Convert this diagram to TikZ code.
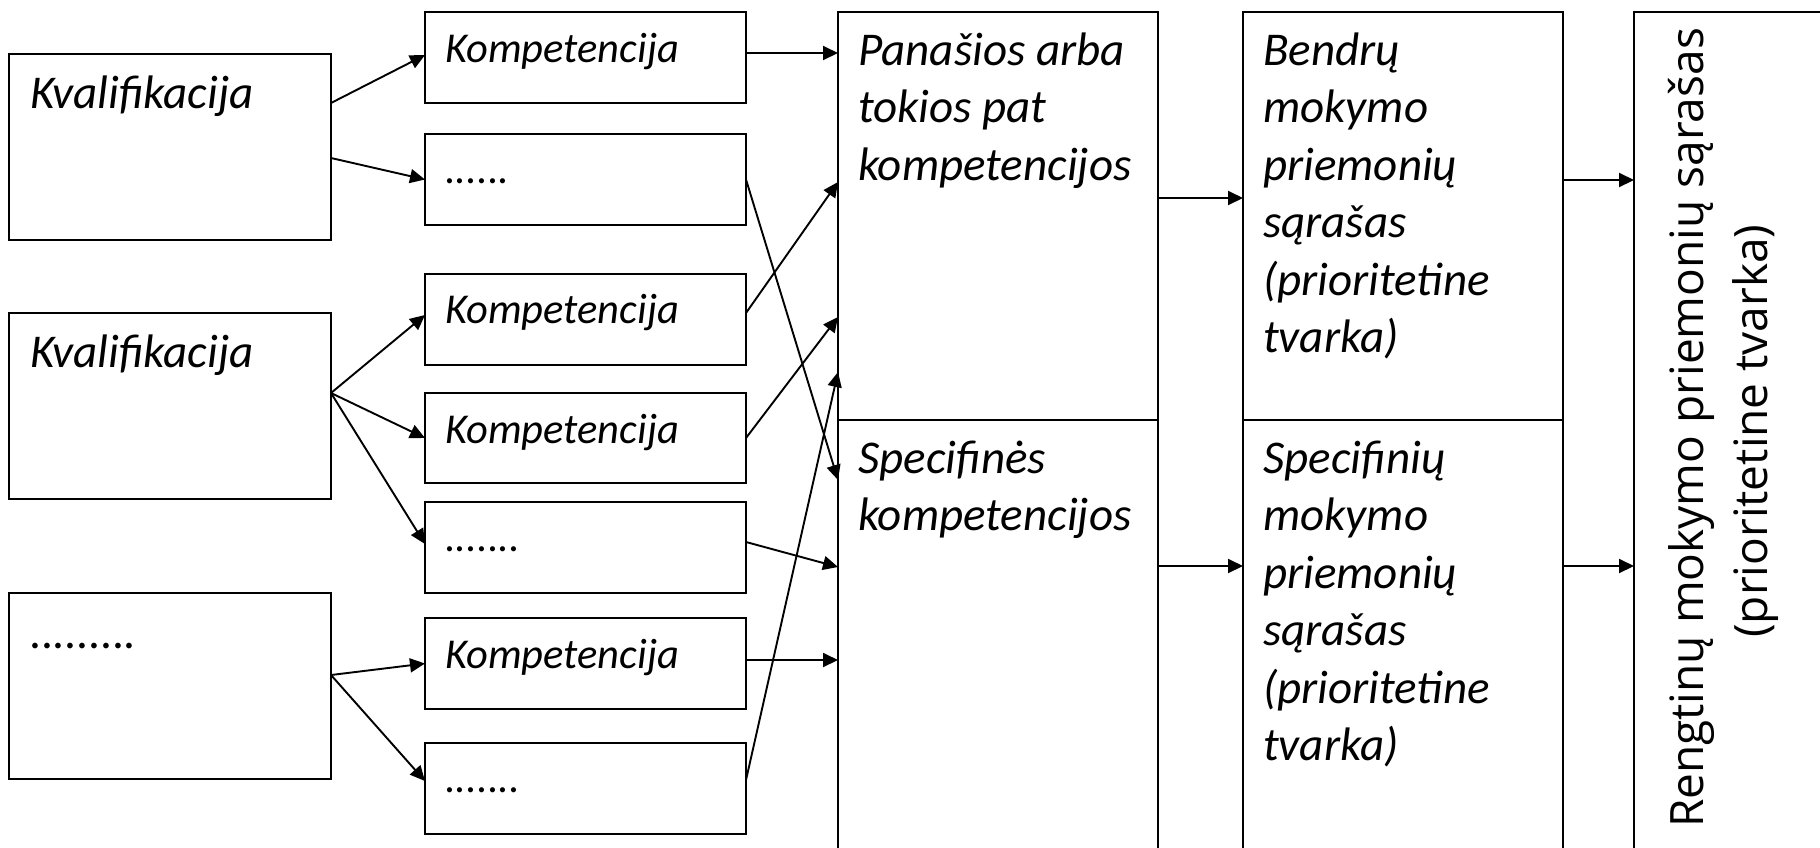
\documentclass[tikz,border=0pt]{standalone}
\usepackage{fontspec}
\setmainfont{Carlito}
\newfontfamily\rotfont{Open Sans}
\usetikzlibrary{arrows.meta,calc}
\begin{document}
\begin{tikzpicture}[x=1pt,y=-1pt,
  box/.style={draw, line width=2pt, inner sep=0pt, outer sep=0pt, anchor=north west},
  arr/.style={-{Triangle[length=15pt,width=14pt]}, line width=1.9pt},
  big/.style={font=\itshape\fontsize{47}{57.5}\selectfont, anchor=base west, inner sep=0pt},
  small/.style={font=\itshape\fontsize{42.5}{50}\selectfont, anchor=base west, inner sep=0pt},
  rot/.style={rotate=90, anchor=base, inner sep=0pt, font=\rotfont\fontsize{46}{60}\selectfont}]
\useasboundingbox (0,0) rectangle (1820,847);
\clip (0,0) rectangle (1820,847);
% left boxes
\node[box, minimum width=322pt, minimum height=186pt] (k1) at (9,54) {};
\node[box, minimum width=322pt, minimum height=186pt] (k2) at (9,313) {};
\node[box, minimum width=322pt, minimum height=186pt] (k3) at (9,593) {};
% competence boxes
\node[box, minimum width=321pt, minimum height=91pt] (c1) at (425,12) {};
\node[box, minimum width=321pt, minimum height=91pt] (c2) at (425,134) {};
\node[box, minimum width=321pt, minimum height=91pt] (c3) at (425,274) {};
\node[box, minimum width=321pt, minimum height=90pt] (c4) at (425,393) {};
\node[box, minimum width=321pt, minimum height=91pt] (c5) at (425,502) {};
\node[box, minimum width=321pt, minimum height=91pt] (c6) at (425,618) {};
\node[box, minimum width=321pt, minimum height=91pt] (c7) at (425,743) {};
% big boxes
\node[box, minimum width=320pt, minimum height=408pt] (p) at (838,12) {};
\node[box, minimum width=320pt, minimum height=460pt] (s) at (838,420) {};
\node[box, minimum width=320pt, minimum height=408pt] (b) at (1243,12) {};
\node[box, minimum width=320pt, minimum height=460pt] (sp) at (1243,420) {};
\node[box, minimum width=250pt, minimum height=900pt] (r) at (1634,12) {};
% texts
\node[big] (tk1) at (30,108) {Kvalifikacija};
\node[big] (tk2) at (30,367) {Kvalifikacija};
\node[big] (tk3) at (30,648) {.........};
\node[small] (tc1) at (445,62) {Kompetencija};
\node[small] (tc2) at (445,183) {......};
\node[small] (tc3) at (445,323) {Kompetencija};
\node[small] (tc4) at (445,443) {Kompetencija};
\node[small] (tc5) at (445,551) {.......};
\node[small] (tc6) at (445,668) {Kompetencija};
\node[small] (tc7) at (445,792) {.......};
\node[big] (tp) at (858,65) {\vtop{\hbox{Panašios arba}\hbox{tokios pat}\hbox{kompetencijos}}};
\node[big] (ts) at (858,473) {\vtop{\hbox{Specifinės}\hbox{kompetencijos}}};
\node[big] (tb) at (1263,65) {\vtop{\hbox{Bendrų}\hbox{mokymo}\hbox{priemonių}\hbox{sąrašas}\hbox{(prioritetine}\hbox{tvarka)}}};
\node[big] (tsp) at (1263,473) {\vtop{\hbox{Specifinių}\hbox{mokymo}\hbox{priemonių}\hbox{sąrašas}\hbox{(prioritetine}\hbox{tvarka)}}};
\node[rot] (tr1) at (1703,428) {Rengtinų mokymo priemonių sąrašas};
\node[rot] (tr2) at (1767,431) {(prioritetine tvarka)};
% arrows left -> competences
\draw[arr] ($(k1.north east)+(0,49)$) -- ($(c1.north west)+(0,43)$);
\draw[arr] ($(k1.north east)+(0,104)$) -- (c2.west);
\draw[arr] ($(k2.north east)+(0,80)$) -- ($(c3.north west)+(0,41)$);
\draw[arr] ($(k2.north east)+(0,80)$) -- (c4.west);
\draw[arr] ($(k2.north east)+(0,80)$) -- ($(c5.north west)+(0,42)$);
\draw[arr] ($(k3.north east)+(0,82)$) -- (c6.west);
\draw[arr] ($(k3.north east)+(0,82)$) -- ($(c7.north west)+(0,38)$);
% competences -> big boxes
\draw[arr] ($(c1.north east)+(0,41)$) -- ($(p.north west)+(0,41)$);
\draw[arr] (c2.east) -- ($(s.north west)+(0,60)$);
\draw[arr] ($(c3.north east)+(0,39)$) -- ($(p.north west)+(0,170)$);
\draw[arr] (c4.east) -- ($(p.north west)+(0,305)$);
\draw[arr] ($(c5.north east)+(0,40)$) -- ($(s.north west)+(0,147)$);
\draw[arr] ($(c6.north east)+(0,42)$) -- ($(s.north west)+(0,240)$);
\draw[arr] ($(c7.north east)+(0,37)$) -- ($(p.north west)+(0,360)$);
% big -> lists -> final
\draw[arr] ($(p.north east)+(0,186)$) -- ($(b.north west)+(0,186)$);
\draw[arr] ($(s.north east)+(0,146)$) -- ($(sp.north west)+(0,146)$);
\draw[arr] ($(b.north east)+(0,168)$) -- ($(r.north west)+(0,168)$);
\draw[arr] ($(sp.north east)+(0,146)$) -- ($(r.north west)+(0,554)$);
\end{tikzpicture}
\end{document}
